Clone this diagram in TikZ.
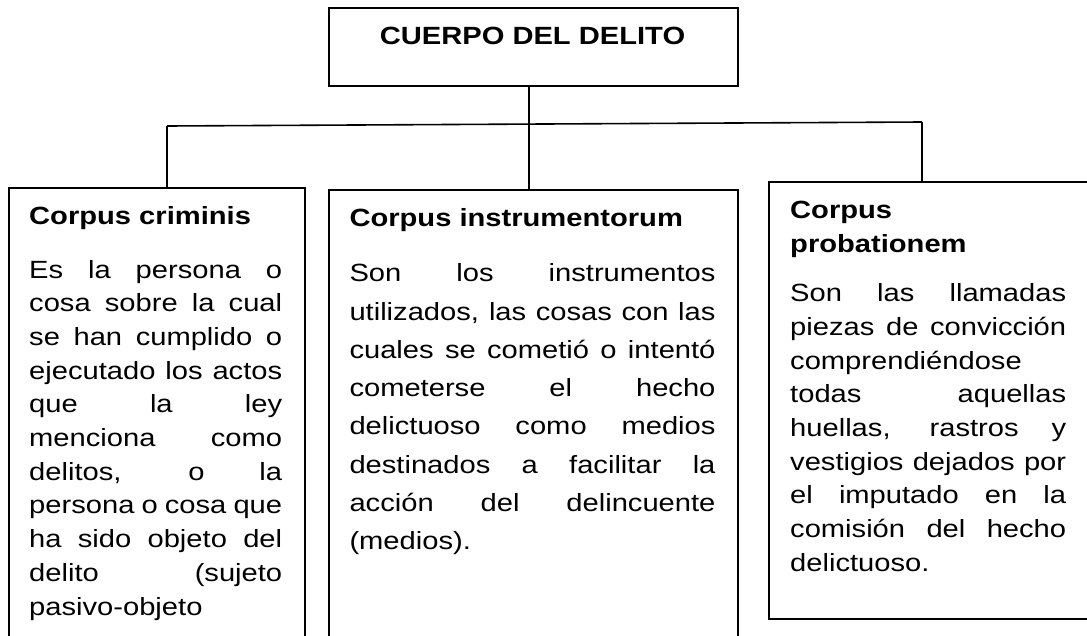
\documentclass[tikz,border=0pt]{standalone}
\usepackage{fontspec}
\setmainfont[FakeStretch=1.17]{Liberation Sans}
\newcommand\J[1]{{\spaceskip=0pt\xspaceskip=0pt\makebox[\hsize][s]{#1}}}
\begin{document}
\begin{tikzpicture}[x=1pt,y=-1pt,
  box/.style={draw, line width=1.6pt, inner sep=0pt, anchor=north west},
  conn/.style={line width=1.6pt},
  head/.style={anchor=base west, inner sep=0pt, align=left, font=\fontsize{24.9}{34.4}\selectfont\bfseries},
  bodyA/.style={anchor=base west, inner sep=0pt, align=left, font=\fontsize{24.9}{33.7}\selectfont},
  bodyB/.style={anchor=base west, inner sep=0pt, align=left, font=\fontsize{24.9}{38.3}\selectfont}]
\useasboundingbox (0,0) rectangle (1087,635);
\fill[white] (0,0) rectangle (1087,635);
\clip (0,0) rectangle (1087,635);
% boxes
\node[box, minimum width=409pt, minimum height=78pt] (top) at (328,7) {};
\node[box, minimum width=296pt, minimum height=480pt] (b1) at (8,187) {};
\node[box, minimum width=409pt, minimum height=480pt] (b2) at (328,189) {};
\node[box, minimum width=340pt, minimum height=437pt] (b3) at (768,181) {};
% connectors
\coordinate (jl) at (167,126);
\coordinate (jr) at (922,122);
\coordinate (jm) at (529,124);
\draw[conn] (jm |- top.south) -- (jm |- b2.north);
\draw[conn] (jl) -- (jr);
\draw[conn] (jl) -- (jl |- b1.north);
\draw[conn] (jr) -- (jr |- b3.north);
% texts
\node[anchor=base, inner sep=0pt, font=\fontsize{24.9}{30}\selectfont\bfseries] (ttop) at (532.5,44) {CUERPO DEL DELITO};
\node[head] (t1) at (29,224) {Corpus criminis};
\node[bodyA, text width=253pt] (d1) at (29,278) {\J{Es la persona o}\\
\J{cosa sobre la cual}\\
\J{se han cumplido o}\\
\J{ejecutado los actos}\\
\J{que la ley}\\
\J{menciona como}\\
\J{delitos, o la}\\
\J{persona o cosa que}\\
\J{ha sido objeto del}\\
\J{delito (sujeto}\\
pasivo-objeto};
\node[head] (t2) at (349.3,226.7) {Corpus instrumentorum};
\node[bodyB, text width=366pt] (d2) at (349.3,281.7) {\J{Son los instrumentos}\\
\J{utilizados, las cosas con las}\\
\J{cuales se cometió o intentó}\\
\J{cometerse el hecho}\\
\J{delictuoso como medios}\\
\J{destinados a facilitar la}\\
\J{acción del delincuente}\\
(medios).};
\node[head, text width=276pt] (t3) at (790,218.3) {Corpus\\ probationem};
\node[bodyA, text width=276pt] (d3) at (790,301.7) {\J{Son las llamadas}\\
\J{piezas de convicción}\\
comprendiéndose\\
\J{todas aquellas}\\
\J{huellas, rastros y}\\
\J{vestigios dejados por}\\
\J{el imputado en la}\\
\J{comisión del hecho}\\
delictuoso.};
\end{tikzpicture}
\end{document}
